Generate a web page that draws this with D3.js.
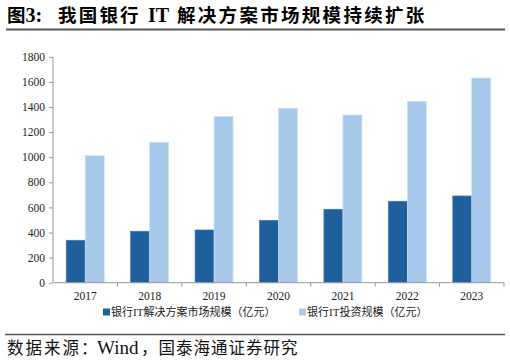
<!DOCTYPE html>
<html><head><meta charset="utf-8">
<script src="https://cdn.jsdelivr.net/npm/d3@7"></script>
<style>
body{margin:0;background:#fff;}
svg{display:block;}
</style></head>
<body>
<script>
const categories = ["2017","2018","2019","2020","2021","2022","2023"];
const solutionMarket = [338, 410, 420, 497, 585, 649, 691];
const itInvestment = [1012, 1119, 1323, 1390, 1336, 1445, 1631];
const yTicks = [0,200,400,600,800,1000,1200,1400,1600,1800];
const seriesNames = ["银行IT解决方案市场规模（亿元）","银行IT投资规模（亿元）"];
const titleParts = ["图","3:","我国银行","IT","解决方案市场规模持续扩张"];
const sourceParts = ["数据来源：","Wind","，国泰海通证券研究"];

const W=510,H=361;
const fontMix = "'Liberation Serif','Times New Roman','Noto Sans CJK SC',serif";
const svg = d3.select("body").append("svg").attr("width",W).attr("height",H);

// title
const title = svg.append("text").attr("y",22)
  .attr("font-family",fontMix).attr("font-weight","bold").attr("font-size",18.5).attr("fill","#000");
const tx = [7,25.5,58,148,177], tls=[0,0,2.2,0,2.3], tfs=[18.5,20,18.5,20,18.5];
titleParts.forEach((t,i)=>title.append("tspan").attr("x",tx[i]).attr("letter-spacing",tls[i])
  .attr("font-size",tfs[i]).text(t));
svg.append("line").attr("x1",6).attr("x2",505).attr("y1",29.5).attr("y2",29.5)
  .attr("stroke","#555").attr("stroke-width",1.8);

// scales
const x = d3.scaleBand().domain(categories).range([53,504]);
const y = d3.scaleLinear().domain([0,1800]).range([282.7,56.8]);
const barW = 19;

// y axis
const yAxis = svg.append("g").attr("transform","translate(53,0)")
  .call(d3.axisLeft(y).tickValues(yTicks).tickFormat(d3.format("d")).tickSize(4).tickPadding(4));
yAxis.select(".domain").attr("stroke","#999").attr("d","M0,"+y(1800)+"V"+y(0));
yAxis.selectAll(".tick line").attr("stroke","#999");
yAxis.selectAll("text").attr("font-family",fontMix).attr("font-size",11.5).attr("fill","#222");

// bars
const g = svg.append("g");
categories.forEach((c,i)=>{
  const cx = x(c)+x.bandwidth()/2;
  g.append("rect").attr("x",cx-barW).attr("y",y(solutionMarket[i]))
    .attr("width",barW).attr("height",y(0)-y(solutionMarket[i]))
    .attr("fill","#1f5f9b").attr("stroke","#3d78b2").attr("stroke-width",0.7);
  g.append("rect").attr("x",cx).attr("y",y(itInvestment[i]))
    .attr("width",barW).attr("height",y(0)-y(itInvestment[i]))
    .attr("fill","#a6c8eb").attr("stroke","#cfe1f4").attr("stroke-width",0.7);
});

// x axis
const xAxis = svg.append("g").attr("transform","translate(0,"+y(0)+")")
  .call(d3.axisBottom(x).tickSize(0).tickPadding(9));
xAxis.select(".domain").attr("stroke","#999").attr("d","M53,0H504");
xAxis.selectAll("text").attr("font-family",fontMix).attr("font-size",11.5).attr("fill","#222");
const bounds = categories.slice(1).map(c=>x(c)).concat([x.range()[1]]);
xAxis.selectAll(".bt").data(bounds).enter().append("line")
  .attr("x1",d=>d).attr("x2",d=>d).attr("y1",0).attr("y2",4).attr("stroke","#999");

// legend
const legend = [{c:"#1f5f9b",x:103,t:seriesNames[0]},{c:"#a6c8eb",x:299,t:seriesNames[1]}];
legend.forEach(l=>{
  svg.append("rect").attr("x",l.x).attr("y",308.5).attr("width",7).attr("height",7).attr("fill",l.c);
  svg.append("text").attr("x",l.x+8).attr("y",316).attr("font-family",fontMix)
    .attr("font-size",11).attr("fill","#222").text(l.t);
});

// footer
svg.append("line").attr("x1",5).attr("x2",505).attr("y1",334.5).attr("y2",334.5)
  .attr("stroke","#555").attr("stroke-width",1.5);
const src = svg.append("text").attr("y",354).attr("font-family",fontMix).attr("fill","#111");
const sx=[7,97,141], sls=[2,0,1], sfs=[16.5,19,16.5];
sourceParts.forEach((t,i)=>src.append("tspan").attr("x",sx[i]).attr("letter-spacing",sls[i])
  .attr("font-size",sfs[i]).text(t));
</script>
</body></html>
